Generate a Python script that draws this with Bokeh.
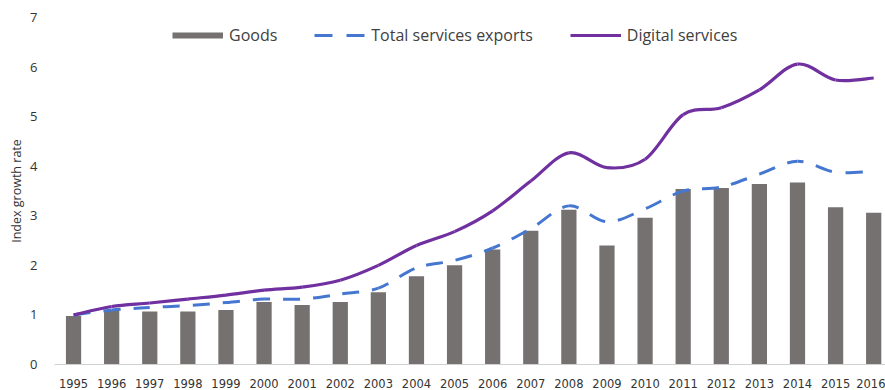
import numpy as np
from bokeh.plotting import figure
from bokeh.models import ColumnDataSource, Range1d, FixedTicker, Legend, LegendItem
from bokeh.embed import file_html
from bokeh.resources import INLINE

years = list(range(1995, 2017))
year_labels = [str(y) for y in years]
goods = [0.98, 1.10, 1.07, 1.07, 1.10, 1.26, 1.20, 1.26, 1.46, 1.78, 2.00,
         2.32, 2.70, 3.12, 2.40, 2.96, 3.54, 3.56, 3.64, 3.67, 3.17, 3.06]
total_services = [1.00, 1.10, 1.15, 1.19, 1.25, 1.32, 1.32, 1.42, 1.54, 1.95, 2.10,
                  2.35, 2.74, 3.20, 2.88, 3.14, 3.50, 3.58, 3.84, 4.10, 3.88, 3.90]
digital_services = [1.00, 1.17, 1.24, 1.32, 1.40, 1.50, 1.56, 1.70, 2.00, 2.40, 2.68,
                    3.10, 3.70, 4.27, 3.97, 4.14, 5.04, 5.18, 5.54, 6.06, 5.74, 5.78]
y_ticks = [0, 1, 2, 3, 4, 5, 6, 7]

GOODS_C = "#767171"
TOTAL_C = "#4577d0"
DIGI_C = "#7030a0"
FONT = "Open Sans"
PX_X, PX_Y = 38.1, 50.0  # approx pixels per data unit, only for dash continuity


def smooth_segments(xs, ys):
    """Bezier control points for a smoothed (Excel-like) line through the data."""
    xs = np.asarray(xs, float)
    ys = np.asarray(ys, float)
    n = len(xs)
    xp = np.concatenate([[xs[0]], xs, [xs[-1]]])
    yp = np.concatenate([[ys[0]], ys, [ys[-1]]])
    cx0 = xs[:-1] + (xp[2:n + 1] - xp[0:n - 1]) / 6
    cy0 = ys[:-1] + (yp[2:n + 1] - yp[0:n - 1]) / 6
    cx1 = xs[1:] - (xp[3:n + 2] - xp[1:n]) / 6
    cy1 = ys[1:] - (yp[3:n + 2] - yp[1:n]) / 6
    t = np.linspace(0, 1, 25)[:, None]
    bx = ((1 - t) ** 3 * xs[:-1] + 3 * (1 - t) ** 2 * t * cx0 + 3 * (1 - t) * t ** 2 * cx1 + t ** 3 * xs[1:]) * PX_X
    by = ((1 - t) ** 3 * ys[:-1] + 3 * (1 - t) ** 2 * t * cy0 + 3 * (1 - t) * t ** 2 * cy1 + t ** 3 * ys[1:]) * PX_Y
    seg_len = np.sqrt(np.diff(bx, axis=0) ** 2 + np.diff(by, axis=0) ** 2).sum(axis=0)
    offs = np.concatenate([[0], np.cumsum(seg_len)[:-1]])
    return ColumnDataSource(dict(
        x0=xs[:-1], y0=ys[:-1], x1=xs[1:], y1=ys[1:],
        cx0=cx0, cy0=cy0, cx1=cx1, cy1=cy1,
        off=[int(round(o)) for o in offs],
    ))


p = figure(width=885, height=390, output_backend="svg", toolbar_location=None,
           x_range=Range1d(1994.5, 2016.31), y_range=Range1d(0, 7),
           min_border_left=54, min_border_right=0, min_border_top=17, min_border_bottom=23)
p.outline_line_color = None
p.grid.visible = False
p.background_fill_color = "white"
p.border_fill_color = "white"

p.vbar(x=years, top=goods, width=0.4, fill_color=GOODS_C, line_color=None)

src_total = smooth_segments(years, total_services)
p.bezier(x0="x0", y0="y0", x1="x1", y1="y1", cx0="cx0", cy0="cy0", cx1="cx1", cy1="cy1",
         source=src_total, line_color=TOTAL_C, line_width=3, line_dash="17 13",
         line_dash_offset="off")
src_digi = smooth_segments(years, digital_services)
p.bezier(x0="x0", y0="y0", x1="x1", y1="y1", cx0="cx0", cy0="cy0", cx1="cx1", cy1="cy1",
         source=src_digi, line_color=DIGI_C, line_width=3.2)

# legend swatches (proxy renderers placed outside the visible range)
off_x = [1980, 1981]
off_y = [-5, -5]
lg_goods = p.line(x=off_x, y=off_y, line_color=GOODS_C, line_width=6)
lg_total = p.line(x=off_x, y=off_y, line_color=TOTAL_C, line_width=3, line_dash="18 14")
lg_digi = p.line(x=off_x, y=off_y, line_color=DIGI_C, line_width=3)

legend = Legend(items=[LegendItem(label="Goods", renderers=[lg_goods]),
                       LegendItem(label="Total services exports", renderers=[lg_total]),
                       LegendItem(label="Digital services", renderers=[lg_digi])],
                orientation="horizontal", location=(118, 318), spacing=37,
                label_standoff=6, glyph_width=51, glyph_height=18, label_height=18,
                padding=0, margin=0, border_line_color=None, background_fill_alpha=0,
                label_text_font=FONT, label_text_font_size="16px", label_text_color="#404040")
p.add_layout(legend)

xa = p.xaxis[0]
xa.ticker = FixedTicker(ticks=years)
xa.major_label_overrides = {y: lab for y, lab in zip(years, year_labels)}
xa.axis_line_color = "#d0d0d0"
xa.axis_line_width = 1
xa.major_tick_line_color = None
xa.minor_tick_line_color = None
xa.major_label_standoff = 8
xa.major_label_text_font = "DejaVu Sans"
xa.major_label_text_font_size = "11.5px"
xa.major_label_text_color = "#333333"

ya = p.yaxis[0]
ya.ticker = FixedTicker(ticks=y_ticks)
ya.axis_line_color = None
ya.major_tick_line_color = None
ya.minor_tick_line_color = None
ya.major_label_standoff = 11
ya.major_label_text_font = FONT
ya.major_label_text_font_size = "13px"
ya.major_label_text_color = "#333333"
ya.axis_label = "Index growth rate"
ya.axis_label_text_font = FONT
ya.axis_label_text_font_size = "12.5px"
ya.axis_label_text_font_style = "normal"
ya.axis_label_text_color = "#333333"
ya.axis_label_standoff = 2

open("out.html", "w").write(file_html(p, INLINE))
